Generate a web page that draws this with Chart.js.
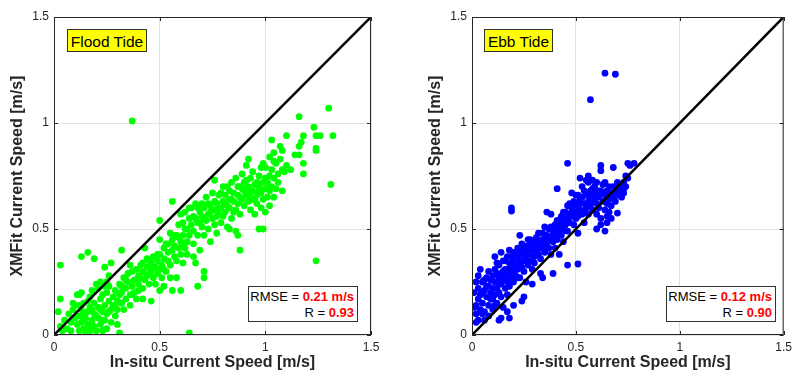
<!DOCTYPE html>
<html>
<head>
<meta charset="utf-8">
<script src="https://cdn.jsdelivr.net/npm/chart.js"></script>
<style>
  body { margin: 0; background: #fff; font-family: "Liberation Sans", Arial, sans-serif; }
  #wrap { position: relative; width: 797px; height: 374px; overflow: hidden; }
  .panel { position: absolute; top: 0; height: 374px; }
  .tag {
    position: absolute; top: 29px; height: 23px; line-height: 23px;
    background: #ffff00; border: 1px solid #333; box-sizing: border-box;
    font-size: 15.5px; color: #000; text-align: center; white-space: nowrap;
  }
  .stats {
    position: absolute; top: 286px; width: 110px; height: 36px;
    background: #fff; border: 1px solid #333; box-sizing: border-box; white-space: nowrap;
    font-size: 13px; line-height: 15.5px; text-align: right; padding: 2px 3px 0 0; color: #000;
  }
  .stats b { color: #ff0000; }
</style>
</head>
<body>
<div id="wrap">
  <div class="panel" style="left:0;width:400px"><canvas id="floodChart" width="400" height="374"></canvas></div>
  <div class="panel" style="left:400px;width:397px"><canvas id="ebbChart" width="397" height="374"></canvas></div>
  <div class="tag" style="left:67px;width:80px">Flood Tide</div>
  <div class="tag" style="left:484px;width:69px">Ebb Tide</div>
  <div class="stats" style="left:248px">RMSE = <b>0.21 m/s</b><br>R = <b>0.93</b></div>
  <div class="stats" style="left:666px">RMSE = <b>0.12 m/s</b><br>R = <b>0.90</b></div>
</div>
<script>
// [in-situ, xmfit] pairs in m/s
const floodPoints = [
  [0.37,1.01],[1.30,1.07],[1.16,1.03],[1.23,0.98],[1.31,0.71],[1.24,0.35],[0.64,0.01],[0.03,0.33],
  [0.16,0.39],[0.13,0.37],[0.32,0.40],[0.56,0.63],[0.50,0.54],[1.32,0.94],[1.26,0.94],[1.10,0.94],
  [1.03,0.92],[1.18,0.94],[1.24,0.94],[1.24,0.87],[1.24,0.88],[1.17,0.91],[1.16,0.89],[1.18,0.81],
  [1.18,0.76],[1.12,0.78],[1.08,0.78],[1.08,0.68],[1.07,0.89],[1.14,0.85],[1.16,0.85],[1.04,0.86],
  [1.02,0.84],[0.99,0.81],[1.00,0.79],[0.99,0.50],[0.97,0.50],[0.88,0.40],[0.87,0.47],[0.83,0.50],
  [0.71,0.30],[0.71,0.27],[0.68,0.23],[0.67,0.34],[0.61,0.34],[0.58,0.27],[0.60,0.21],[0.56,0.21],
  [0.52,0.23],[0.50,0.21],[0.46,0.16],[0.42,0.17],[0.30,0.05],[0.31,0.01],[0.25,0.25],[0.27,0.34],
  [0.24,0.32],[0.19,0.36],[0.03,0.17],[0.02,0.11],[0.09,0.15],[0.12,0.19],
  [0.03,0.04],[0.05,0.07],[0.06,0.03],[0.07,0.10],[0.08,0.06],[0.09,0.12],[0.10,0.08],[0.04,0.02],
  [0.08,0.02],[0.10,0.14],
  [0.11,0.05],[0.12,0.02],[0.12,0.09],[0.13,0.06],[0.13,0.12],[0.14,0.03],[0.14,0.15],[0.15,0.08],
  [0.15,0.01],[0.16,0.11],[0.16,0.05],[0.17,0.18],[0.17,0.02],[0.17,0.13],[0.18,0.07],[0.18,0.21],
  [0.19,0.10],[0.19,0.04],[0.19,0.15],[0.20,0.02],[0.20,0.24],[0.11,0.19],[0.13,0.20],[0.14,0.10],
  [0.12,0.14],[0.18,0.12],[0.16,0.16],
  [0.21,0.08],[0.21,0.13],[0.21,0.22],[0.22,0.05],[0.22,0.17],[0.22,0.25],[0.23,0.11],[0.23,0.02],
  [0.23,0.19],[0.24,0.07],[0.24,0.14],[0.25,0.03],[0.25,0.20],[0.25,0.10],[0.26,0.16],[0.26,0.23],
  [0.27,0.12],[0.27,0.06],[0.28,0.18],[0.28,0.14],[0.29,0.09],[0.29,0.21],[0.30,0.16],[0.30,0.12],
  [0.26,0.28],[0.24,0.23],
  [0.31,0.19],[0.31,0.24],[0.32,0.15],[0.32,0.20],[0.33,0.27],[0.33,0.12],[0.34,0.22],[0.34,0.17],
  [0.35,0.25],[0.35,0.29],[0.36,0.19],[0.36,0.14],[0.37,0.23],[0.37,0.30],[0.38,0.26],[0.38,0.20],
  [0.39,0.31],[0.39,0.17],[0.40,0.24],[0.40,0.28],[0.40,0.21],[0.36,0.33],
  [0.41,0.33],[0.41,0.27],[0.42,0.30],[0.42,0.22],[0.43,0.41],[0.43,0.26],[0.44,0.32],[0.44,0.28],
  [0.45,0.35],[0.45,0.24],[0.46,0.30],[0.46,0.34],[0.47,0.27],[0.47,0.37],[0.48,0.32],[0.48,0.24],
  [0.49,0.35],[0.49,0.29],[0.50,0.38],[0.50,0.31],[0.50,0.45],[0.44,0.36],
  [0.51,0.33],[0.51,0.27],[0.52,0.36],[0.52,0.41],[0.53,0.30],[0.53,0.43],[0.54,0.35],[0.54,0.39],
  [0.55,0.33],[0.55,0.27],[0.56,0.40],[0.56,0.45],[0.57,0.37],[0.57,0.42],[0.58,0.47],[0.58,0.35],
  [0.59,0.41],[0.59,0.52],[0.60,0.44],[0.60,0.38],[0.60,0.57],[0.55,0.48],
  [0.61,0.47],[0.61,0.53],[0.62,0.41],[0.62,0.58],[0.63,0.50],[0.63,0.44],[0.64,0.55],[0.64,0.47],
  [0.65,0.52],[0.65,0.60],[0.66,0.43],[0.66,0.49],[0.67,0.55],[0.67,0.62],[0.68,0.47],[0.68,0.53],
  [0.69,0.58],[0.69,0.40],[0.70,0.51],[0.70,0.56],[0.70,0.62],[0.63,0.38],[0.66,0.37],
  [0.71,0.47],[0.71,0.60],[0.72,0.54],[0.72,0.65],[0.73,0.57],[0.73,0.50],[0.74,0.61],[0.74,0.44],
  [0.75,0.55],[0.75,0.67],[0.76,0.59],[0.76,0.52],[0.77,0.62],[0.77,0.48],[0.78,0.57],[0.78,0.66],
  [0.79,0.60],[0.79,0.53],[0.80,0.63],[0.80,0.56],[0.80,0.70],[0.76,0.73],
  [0.81,0.58],[0.81,0.66],[0.82,0.61],[0.82,0.51],[0.83,0.68],[0.83,0.64],[0.84,0.55],[0.84,0.72],
  [0.85,0.63],[0.85,0.67],[0.86,0.59],[0.86,0.74],[0.87,0.66],[0.87,0.62],[0.88,0.70],[0.88,0.57],
  [0.89,0.64],[0.89,0.76],[0.90,0.68],[0.90,0.61],[0.90,0.72],[0.86,0.49],
  [0.91,0.66],[0.91,0.80],[0.92,0.63],[0.92,0.70],[0.93,0.74],[0.93,0.59],[0.94,0.68],[0.94,0.64],
  [0.95,0.71],[0.95,0.57],[0.96,0.66],[0.96,0.62],[0.97,0.70],[0.97,0.75],[0.98,0.60],[0.98,0.67],
  [0.99,0.72],[0.99,0.64],[1.00,0.69],[1.00,0.58],[0.92,0.83],
  [1.01,0.72],[1.01,0.65],[1.02,0.68],[1.02,0.61],[1.03,0.78],[1.03,0.70],[1.04,0.74],[1.04,0.65],
  [1.05,0.81],[1.05,0.69],[1.06,0.72],[1.07,0.83],[1.08,0.87],[1.09,0.77],[1.10,0.80],
  [0.14,0.07],[0.16,0.02],[0.18,0.04],[0.20,0.09],[0.22,0.12],[0.23,0.07],[0.26,0.11],[0.29,0.14],
  [0.32,0.23],[0.34,0.26],[0.37,0.19],[0.39,0.26],[0.42,0.34],[0.45,0.29],[0.47,0.32],[0.49,0.38],
  [0.52,0.31],[0.54,0.43],[0.57,0.47],[0.59,0.46],[0.61,0.42],[0.62,0.50],[0.64,0.60],[0.66,0.56],
  [0.68,0.60],[0.69,0.53],[0.71,0.55],[0.73,0.62],[0.74,0.58],[0.76,0.63],[0.78,0.60],[0.79,0.67],
  [0.81,0.62],[0.82,0.70],[0.84,0.64],[0.85,0.58],[0.87,0.70],[0.88,0.65],[0.89,0.69],[0.91,0.73],
  [0.92,0.67],[0.93,0.65],[0.94,0.77],[0.95,0.64],[0.96,0.72],[0.97,0.68],[0.98,0.79],[1.00,0.74],
  [1.01,0.69],[1.02,0.75],[1.04,0.82],[1.06,0.76],[0.77,0.56],[0.83,0.60]
];

const ebbPoints = [
  [0.64,1.235],[0.69,1.23],[0.57,1.11],[0.19,0.60],[0.19,0.585],[0.41,0.69],[0.46,0.81],[0.62,0.80],
  [0.68,0.79],[0.75,0.81],[0.78,0.81],[0.62,0.775],[0.51,0.335],[0.46,0.33],[0.39,0.29],[0.29,0.24],
  [0.02,0.06],[0.13,0.07],[0.17,0.11],[0.18,0.08],[0.24,0.16],[0.60,0.50],[0.64,0.49],[0.51,0.48],
  [0.65,0.53],[0.70,0.575],[0.73,0.69],[0.74,0.70],
  [0.01,0.20],[0.02,0.14],[0.02,0.10],[0.03,0.17],[0.03,0.22],[0.04,0.12],[0.04,0.19],[0.05,0.25],
  [0.05,0.15],[0.06,0.21],[0.06,0.11],[0.07,0.18],[0.07,0.27],[0.08,0.23],[0.08,0.14],[0.09,0.20],
  [0.09,0.26],[0.10,0.17],[0.10,0.22],[0.10,0.12],[0.04,0.31],[0.03,0.07],[0.06,0.07],[0.01,0.13],
  [0.11,0.25],[0.11,0.19],[0.12,0.29],[0.12,0.15],[0.12,0.22],[0.13,0.27],[0.13,0.20],[0.13,0.33],
  [0.14,0.24],[0.14,0.18],[0.15,0.30],[0.15,0.26],[0.15,0.13],[0.16,0.22],[0.16,0.35],[0.16,0.28],
  [0.17,0.25],[0.17,0.31],[0.17,0.19],[0.18,0.29],[0.18,0.34],[0.18,0.23],[0.19,0.27],[0.19,0.37],
  [0.19,0.32],[0.20,0.30],[0.20,0.25],[0.20,0.39],[0.11,0.37],[0.14,0.39],[0.14,0.08],[0.11,0.14],
  [0.21,0.33],[0.21,0.28],[0.22,0.36],[0.22,0.31],[0.22,0.41],[0.23,0.34],[0.23,0.27],[0.24,0.38],
  [0.24,0.32],[0.24,0.43],[0.25,0.35],[0.25,0.30],[0.26,0.40],[0.26,0.36],[0.26,0.25],[0.27,0.33],
  [0.27,0.42],[0.28,0.38],[0.28,0.35],[0.28,0.45],[0.29,0.40],[0.29,0.31],[0.30,0.37],[0.30,0.43],
  [0.30,0.34],[0.23,0.47],[0.25,0.18],[0.18,0.40],[0.20,0.14],
  [0.31,0.40],[0.31,0.46],[0.32,0.38],[0.32,0.42],[0.33,0.44],[0.33,0.36],[0.34,0.48],[0.34,0.41],
  [0.35,0.45],[0.35,0.39],[0.35,0.51],[0.36,0.43],[0.36,0.47],[0.37,0.41],[0.37,0.50],[0.38,0.45],
  [0.38,0.38],[0.39,0.49],[0.39,0.44],[0.40,0.47],[0.40,0.52],[0.40,0.41],[0.36,0.58],[0.38,0.57],
  [0.33,0.29],[0.34,0.27],
  [0.41,0.50],[0.41,0.45],[0.42,0.53],[0.42,0.48],[0.43,0.51],[0.43,0.56],[0.44,0.49],[0.44,0.54],
  [0.45,0.58],[0.45,0.52],[0.46,0.55],[0.46,0.49],[0.46,0.61],[0.47,0.57],[0.47,0.53],[0.48,0.60],
  [0.48,0.56],[0.49,0.52],[0.49,0.63],[0.50,0.58],[0.50,0.55],[0.50,0.66],[0.44,0.44],[0.48,0.67],
  [0.42,0.38],
  [0.51,0.61],[0.51,0.56],[0.52,0.59],[0.52,0.64],[0.53,0.57],[0.53,0.70],[0.54,0.62],[0.54,0.58],
  [0.55,0.66],[0.55,0.60],[0.55,0.73],[0.56,0.63],[0.56,0.57],[0.57,0.68],[0.57,0.61],[0.58,0.65],
  [0.58,0.59],[0.59,0.63],[0.59,0.70],[0.60,0.62],[0.60,0.67],[0.60,0.57],[0.52,0.74],[0.56,0.72],
  [0.54,0.53],
  [0.61,0.65],[0.61,0.60],[0.62,0.68],[0.62,0.55],[0.63,0.63],[0.63,0.71],[0.64,0.59],[0.64,0.66],
  [0.65,0.62],[0.65,0.68],[0.66,0.58],[0.66,0.64],[0.67,0.67],[0.67,0.61],[0.68,0.70],[0.68,0.65],
  [0.69,0.63],[0.70,0.68],[0.70,0.66],[0.62,0.52],[0.65,0.56],[0.67,0.55],
  [0.71,0.71],[0.72,0.69],[0.73,0.72],[0.74,0.75],[0.75,0.74],[0.76,0.80],[0.72,0.65],[0.71,0.68],
  [0.02,0.25],[0.03,0.28],[0.05,0.20],[0.06,0.26],[0.07,0.23],[0.08,0.30],[0.09,0.17],[0.05,0.10],
  [0.08,0.09],[0.10,0.28],[0.11,0.31],[0.12,0.34],[0.13,0.24],[0.14,0.29],[0.15,0.35],[0.16,0.31],
  [0.17,0.37],[0.18,0.27],[0.19,0.34],[0.20,0.36],[0.21,0.38],[0.22,0.27],[0.23,0.40],[0.24,0.35],
  [0.25,0.42],[0.26,0.38],[0.27,0.45],[0.28,0.41],[0.29,0.44],[0.30,0.40],[0.31,0.43],[0.32,0.48],
  [0.33,0.41],[0.34,0.45],[0.35,0.42],[0.37,0.46],[0.38,0.51],[0.39,0.47],[0.41,0.54],[0.42,0.51],
  [0.43,0.47],[0.44,0.58],[0.45,0.55],[0.47,0.62],[0.48,0.58],[0.49,0.61],[0.50,0.62],[0.51,0.66],
  [0.52,0.62],[0.53,0.65],[0.54,0.68],[0.55,0.62],[0.57,0.65],[0.58,0.69],[0.59,0.66],[0.61,0.68],
  [0.63,0.67],[0.64,0.72],[0.66,0.70],[0.69,0.67],[0.56,0.75],[0.58,0.73],[0.70,0.72],[0.73,0.67],
  [0.60,0.72]
];

const oneToOne = [0, 1.5];
const axisTicks = [0, 0.5, 1, 1.5];

// matlab style box with ticks pointing inwards
const boxPlugin = {
  id: 'box',
  afterDatasetsDraw(chart) {
    const { ctx, chartArea: a, scales } = chart;
    ctx.save();
    ctx.strokeStyle = '#262626';
    ctx.lineWidth = 1;
    ctx.strokeRect(a.left + 0.5, a.top + 0.5, a.right - a.left - 1, a.bottom - a.top - 1);
    ctx.beginPath();
    axisTicks.forEach(v => {
      const px = Math.round(scales.x.getPixelForValue(v)) + 0.5;
      ctx.moveTo(px, a.bottom); ctx.lineTo(px, a.bottom - 4);
      ctx.moveTo(px, a.top); ctx.lineTo(px, a.top + 4);
      const py = Math.round(scales.y.getPixelForValue(v)) + 0.5;
      ctx.moveTo(a.left, py); ctx.lineTo(a.left + 4, py);
      ctx.moveTo(a.right, py); ctx.lineTo(a.right - 4, py);
    });
    ctx.stroke();
    ctx.restore();
  }
};

function makeChart(id, points, color, padLeft, padRight) {
  const axis = (title, isY) => ({
    type: 'linear',
    min: 0,
    max: 1.5,
    afterBuildTicks: s => { s.ticks = axisTicks.map(v => ({ value: v })); },
    afterFit: s => { if (isY) s.width = 54; else s.height = 39; },
    grid: { color: '#e3e3e3', drawTicks: false },
    border: { display: false },
    ticks: {
      color: '#262626', font: { size: 12, family: 'Liberation Sans' }, padding: 5, maxRotation: 0,
      callback: v => String(v)
    },
    title: {
      display: true, text: title, color: '#262626',
      font: { size: 16, weight: 'bold', family: 'Liberation Sans' },
      padding: isY ? { top: 8, bottom: 0 } : { top: 0, bottom: 2 }
    }
  });

  new Chart(document.getElementById(id), {
    type: 'scatter',
    data: {
      datasets: [
        {
          type: 'line',
          data: oneToOne.map(v => ({ x: v, y: v })),
          borderColor: '#000',
          borderWidth: 2.5,
          pointRadius: 0,
          order: 0
        },
        {
          data: points.map(p => ({ x: p[0], y: p[1] })),
          backgroundColor: color,
          borderWidth: 0,
          pointRadius: 3.4,
          order: 1
        }
      ]
    },
    options: {
      responsive: false,
      animation: false,
      layout: { padding: { top: 17, right: padRight, left: padLeft, bottom: 0 } },
      plugins: { legend: { display: false }, tooltip: { enabled: false } },
      scales: {
        x: axis('In-situ Current Speed [m/s]', false),
        y: axis('XMFit Current Speed [m/s]', true)
      }
    },
    plugins: [boxPlugin]
  });
}

makeChart('floodChart', floodPoints, '#00ff00', 0, 29);
makeChart('ebbChart', ebbPoints, '#0000ff', 18, 8);
</script>
</body>
</html>
